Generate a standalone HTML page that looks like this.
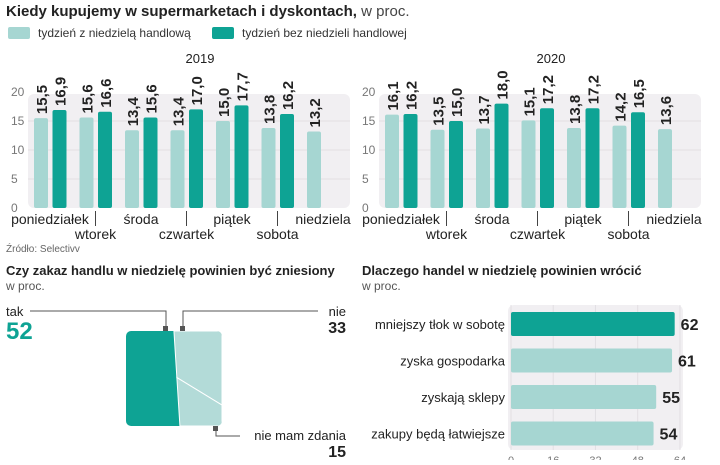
<!DOCTYPE html>
<html><head><meta charset="utf-8"><style>
body{margin:0;background:#fff;font-family:"Liberation Sans",sans-serif;}
svg text{font-family:"Liberation Sans",sans-serif;}
</style></head><body>
<svg id="s" width="720" height="460" xmlns="http://www.w3.org/2000/svg">
<text x="6" y="16" font-size="15" font-weight="bold" fill="#222">Kiedy kupujemy w supermarketach i dyskontach,<tspan font-weight="normal" fill="#444"> w proc.</tspan></text>
<rect x="8" y="27" width="22" height="12" rx="2" fill="#a6d6d2"/>
<text x="38" y="37" font-size="12" fill="#333">tydzień z niedzielą handlową</text>
<rect x="212" y="27" width="22" height="12" rx="2" fill="#0ea394"/>
<text x="242" y="37" font-size="12" fill="#333">tydzień bez niedzieli handlowej</text>
<g id="charts"></g>
<text x="6" y="252" font-size="10" fill="#666">Źródło: Selectivv</text>

<text x="6" y="275" font-size="13" font-weight="bold" fill="#222">Czy zakaz handlu w niedzielę powinien być zniesiony</text>
<text x="6" y="290" font-size="12" fill="#555">w proc.</text>
<g id="pie"></g>

<text x="362" y="275" font-size="13" font-weight="bold" fill="#222">Dlaczego handel w niedzielę powinien wrócić</text>
<text x="362" y="290" font-size="12" fill="#555">w proc.</text>
<g id="hbar"></g>
</svg>
<script>
const days=["poniedziałek","wtorek","środa","czwartek","piątek","sobota","niedziela"];
const years=["2019","2020"];
const withSunday2019=[15.5,15.6,13.4,13.4,15.0,13.8,13.2];
const withoutSunday2019=[16.9,16.6,15.6,17.0,17.7,16.2,null];
const withSunday2020=[16.1,13.5,13.7,15.1,13.8,14.2,13.6];
const withoutSunday2020=[16.2,15.0,18.0,17.2,17.2,16.5,null];
const yTicks=[0,5,10,15,20];
const reasons=["mniejszy tłok w sobotę","zyska gospodarka","zyskają sklepy","zakupy będą łatwiejsze"];
const reasonValues=[62,61,55,54];
const xTicks=[0,16,32,48,64];
const pieLabels=["tak","nie","nie mam zdania"];
const pieValues=[52,33,15];

const NS="http://www.w3.org/2000/svg";
function el(t,a,p,txt){const e=document.createElementNS(NS,t);for(const k in a)e.setAttribute(k,a[k]);if(txt!==undefined)e.textContent=txt;p.appendChild(e);return e;}
const fmt=v=>v.toFixed(1).replace(".",",");
const charts=document.getElementById("charts");
const series=[[withSunday2019,withoutSunday2019],[withSunday2020,withoutSunday2020]];
series.forEach((sr,ci)=>{
  const ox=ci*351;
  const y0=208, sc=5.8;
  const yS=v=>y0-v*sc;
  const g=el("g",{},charts);
  
  
  const bg=el("rect",{x:ox+28,y:yS(20)+2,width:322,height:y0-yS(20)-2,rx:6,fill:"#f1eff2"},g);
  
  
  const yr=el("text",{x:ox+200,y:63,"font-size":13,fill:"#222","text-anchor":"middle"},g,years[ci]);
  
  
  yTicks.forEach(t=>{
    if(t>0&&t<20){const gl=el("line",{x1:ox+28,x2:ox+350,y1:yS(t),y2:yS(t),stroke:"#e2dfe3","stroke-width":1},g);
    
    }
    const tl=el("text",{x:ox+11,y:yS(t)+4,"font-size":12,fill:"#777"},g,String(t));
    
    
  });
  days.forEach((d,i)=>{
    const gx=ox+34+i*45.5;
    [0,1].forEach(k=>{
      const v=sr[k][i]; if(v==null) return;
      const x=gx+k*18.5;
      const b=el("rect",{x:x,y:yS(v),width:14,height:y0-yS(v),rx:2,fill:k?"#0ea394":"#a6d6d2"},g);
      
      
      const lx=x+13, ly=yS(v)-4;
      const vl=el("text",{x:lx,y:ly,"font-size":15,"font-weight":"bold",fill:"#222",transform:`rotate(-90 ${lx} ${ly})`},g,fmt(v));
      
      
    });
    const row=i%2;
    const cx=gx+16;
    const dl=el("text",{x:cx,y:row?239:224,"font-size":14,fill:"#222","text-anchor":"middle"},g,d);
    
    
  });
  [1,3,5].forEach(i=>{
    const xs=ox+34+i*45.5+16;
    const s=el("line",{x1:xs,x2:xs,y1:211,y2:226,stroke:"#444","stroke-width":1},g);
    
    
  });
});

// pie-like square
const pie=document.getElementById("pie");
const px=126,py=331,pw=96,ph=95;
const tot=pieValues.reduce((a,b)=>a+b,0);
const splitTop=px+pw*pieValues[0]/tot*0.96, splitBot=px+pw*pieValues[0]/tot*1.08;
const midY=py+ph*0.49;
const splitMid=splitTop+(splitBot-splitTop)*0.49;
const cp=el("clipPath",{id:"sq"},pie);el("rect",{x:px,y:py,width:pw,height:ph,rx:5},cp);
const pg=el("g",{"clip-path":"url(#sq)"},pie);
const p1=el("polygon",{points:`${px},${py} ${splitTop},${py} ${splitBot},${py+ph} ${px},${py+ph}`,fill:"#0ea394"},pg);


const p2=el("polygon",{points:`${splitTop},${py} ${px+pw},${py} ${px+pw},${py+ph*0.78} ${splitMid},${midY}`,fill:"#b3dbd8",stroke:"#fff","stroke-width":1},pg);


const p3=el("polygon",{points:`${splitMid},${midY} ${px+pw},${py+ph*0.78} ${px+pw},${py+ph} ${splitBot},${py+ph}`,fill:"#b3dbd8",stroke:"#fff","stroke-width":1},pg);


["30,311 166,311 166,328","318,311 183,311 183,328","216,428 216,436 240,436"].forEach(pts=>{
  const ln=el("polyline",{points:pts,fill:"none",stroke:"#555","stroke-width":1},pie);
  
  
});
[[163,326],[180,326],[213,426]].forEach(p=>{const m=el("rect",{x:p[0],y:p[1],width:5,height:5,fill:"#555"},pie);

});
const lab=[[6,316,"start",pieLabels[0]],[346,316,"end",pieLabels[1]],[346,440,"end",pieLabels[2]]];
lab.forEach((l,i)=>{const t=el("text",{x:l[0],y:l[1],"font-size":13,fill:"#222","text-anchor":l[2]},pie,l[3]);


const v=el("text",{x:l[0],y:l[1]+(i==0?23:17),"font-size":i==0?24:16,"font-weight":"bold",fill:i==0?"#0ea394":"#222","text-anchor":l[2]},pie,String(pieValues[i]));

});

// horizontal bars
const hb=document.getElementById("hbar");
const x0=511, xs=v=>x0+v*2.64;
const hbg=el("rect",{x:x0-3,y:305,width:xs(64)-x0+6,height:145,rx:6,fill:"#f1eff2"},hb);


xTicks.forEach(t=>{
  const gl=el("line",{x1:xs(t),x2:xs(t),y1:305,y2:450,stroke:"#e2dfe3"},hb);
  
  
  const tl=el("text",{x:xs(t),y:464,"font-size":11,fill:"#777","text-anchor":"middle"},hb,String(t));
  
  
});
reasons.forEach((r,i)=>{
  const y=312+i*36.5;
  const b=el("rect",{x:x0,y:y,width:xs(reasonValues[i])-x0,height:24,rx:2,fill:i==0?"#0ea394":"#a6d6d2"},hb);
  
  
  const l=el("text",{x:x0-6,y:y+17,"font-size":13,fill:"#222","text-anchor":"end"},hb,r);
  
  
  const v=el("text",{x:xs(reasonValues[i])+6,y:y+18,"font-size":16,"font-weight":"bold",fill:"#222"},hb,String(reasonValues[i]));
  
  
});
</script>
</body></html>
